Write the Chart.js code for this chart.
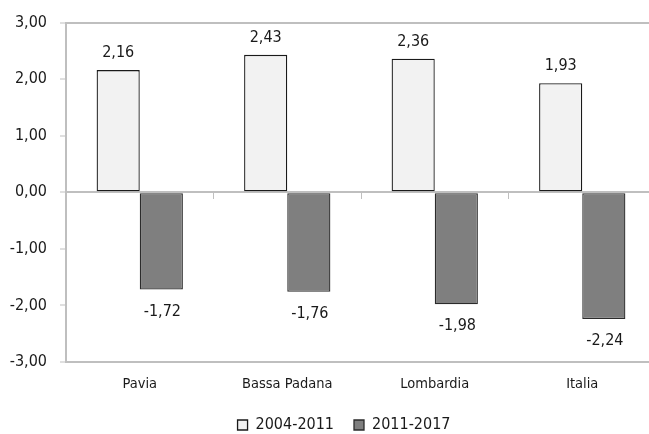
<!DOCTYPE html>
<html><head><meta charset="utf-8">
<script src="https://cdn.jsdelivr.net/npm/chart.js@4/dist/chart.umd.min.js"></script>
<style>html,body{margin:0;padding:0;background:#fff;overflow:hidden;width:649px;height:434px}#wrap{width:656px;height:434px;position:relative}</style>
</head><body><div id="wrap"><canvas id="c"></canvas></div>
<script>
const categories = ['Pavia', 'Bassa Padana', 'Lombardia', 'Italia'];
const seriesNames = ['2004-2011', '2011-2017'];
const values2004_2011 = [2.16, 2.43, 2.36, 1.93];
const values2011_2017 = [-1.72, -1.76, -1.98, -2.24];
const yTicks = [-3, -2, -1, 0, 1, 2, 3];

const FONT = "'Liberation Sans Narrow','DejaVu Sans Condensed','Liberation Sans',sans-serif";
const fmt = v => v.toFixed(2).replace('.', ',');

const labelPlugin = {
  id: 'vlabels',
  afterLayout(chart) {
    if (chart.legend) { chart.legend.left += 16; chart.legend.right += 16; }
  },
  afterDatasetsDraw(chart) {
    const ctx = chart.ctx;
    ctx.save();
    ctx.font = '16px ' + FONT;
    ctx.fillStyle = '#1a1a1a';
    ctx.textAlign = 'center';
    ctx.textBaseline = 'middle';
    chart.data.datasets.forEach((ds, di) => {
      const meta = chart.getDatasetMeta(di);
      meta.data.forEach((el, i) => {
        const v = ds.data[i];
        const y = v >= 0 ? el.y - 17 : el.y + 22;
        ctx.fillText(fmt(v), el.x + (v < 0 ? 1 : 0), y);
      });
    });
    ctx.restore();
  }
};

new Chart(document.getElementById('c'), {
  type: 'bar',
  data: {
    labels: categories,
    datasets: [
      { label: seriesNames[0], data: values2004_2011, backgroundColor: '#f2f2f2', borderColor: '#1a1a1a', borderWidth: 1.3, xAxisID: 'x' },
      { label: seriesNames[1], data: values2011_2017, backgroundColor: '#7f7f7f', borderColor: '#2b2b2b', borderWidth: 1.3, xAxisID: 'x' }
    ]
  },
  options: {
    responsive: true,
    maintainAspectRatio: false,
    animation: false,
    devicePixelRatio: 1,
    layout: { padding: { top: 21, right: 0, left: 0, bottom: -9 } },
    datasets: { bar: { categoryPercentage: 0.585, barPercentage: 1.0, borderSkipped: false } },
    plugins: {
      legend: {
        position: 'bottom',
        labels: {
          boxWidth: 10, boxHeight: 10, padding: 20,
          font: { family: FONT, size: 16 }, color: '#1a1a1a'
        }
      },
      tooltip: { enabled: false }
    },
    scales: {
      x: {
        type: 'category',
        position: 'bottom',
        grid: { display: true, drawOnChartArea: false, drawTicks: false },
        border: { display: true, color: '#bfbfbf', width: 2 },
        ticks: { font: { family: FONT, size: 14.5 }, color: '#1a1a1a', padding: 14 },
        afterFit(s) { s.height = 35; }
      },
      x0: {
        type: 'category',
        position: { y: 0 },
        offset: true,
        grid: { display: true, offset: true, drawOnChartArea: false, drawTicks: true, tickLength: 6, tickColor: '#bfbfbf', tickWidth: 1 },
        border: { display: true, color: '#bfbfbf', width: 2 },
        ticks: { display: false }
      },
      y: {
        min: -3, max: 3,
        afterBuildTicks(s) { s.ticks = yTicks.map(v => ({ value: v })); },
        grid: {
          color: c => (c.tick && Math.abs(c.tick.value) === 3) ? '#bfbfbf' : 'rgba(0,0,0,0)',
          lineWidth: 2,
          tickColor: '#bfbfbf', tickLength: 6, tickWidth: 1, drawTicks: true
        },
        border: { display: true, color: '#bfbfbf', width: 2 },
        ticks: { font: { family: FONT, size: 16 }, color: '#1a1a1a', padding: 13, callback: v => fmt(v) },
        afterFit(s) { s.width = 66; }
      }
    }
  },
  plugins: [labelPlugin]
});
</script></body></html>
